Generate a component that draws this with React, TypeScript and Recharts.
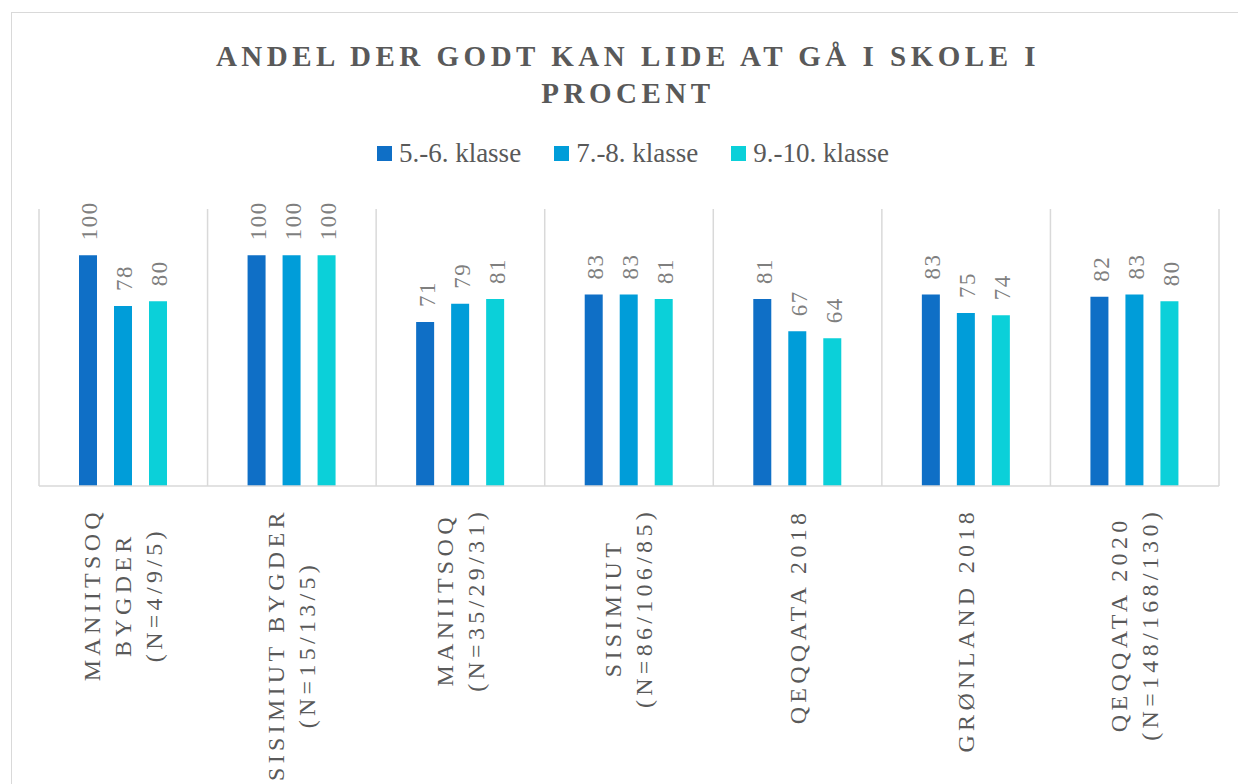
import { BarChart, Bar, XAxis, YAxis, CartesianGrid, LabelList } from 'recharts';

const categories = [
  'MANIITSOQ\nBYGDER\n(N=4/9/5)',
  'SISIMIUT BYGDER\n(N=15/13/5)',
  'MANIITSOQ\n(N=35/29/31)',
  'SISIMIUT\n(N=86/106/85)',
  'QEQQATA 2018',
  'GRØNLAND 2018',
  'QEQQATA 2020\n(N=148/168/130)',
];

const klasse56 = [100, 100, 71, 83, 81, 83, 82];
const klasse78 = [78, 100, 79, 83, 67, 75, 83];
const klasse910 = [80, 100, 81, 81, 64, 74, 80];

const seriesKeys = ['k56', 'k78', 'k910'];
const seriesNames = ['5.-6. klasse', '7.-8. klasse', '9.-10. klasse'];
const seriesColors = ['#0F6FC6', '#009DD9', '#0BD0D9'];

const chartTitle = 'ANDEL DER GODT KAN LIDE AT GÅ I SKOLE I PROCENT';

const data = categories.map((name, i) => ({
  name,
  k56: klasse56[i],
  k78: klasse78[i],
  k910: klasse910[i],
}));

const FONT = '"Liberation Serif", "DejaVu Serif", serif';
const TICK_SIZE = 24;
const TICK_SPACING = 4.3;

let ctx: CanvasRenderingContext2D | null = null;
function textWidth(s: string) {
  if (!ctx) {
    ctx = document.createElement('canvas').getContext('2d');
  }
  if (!ctx) return s.length * 18;
  ctx.font = `${TICK_SIZE}px ${FONT}`;
  return ctx.measureText(s).width + TICK_SPACING * s.length;
}

function AxisTick(props: any) {
  const { x, y, payload } = props;
  const lines = String(payload.value).split('\n');
  const maxW = Math.max(...lines.map(textWidth));
  const cy = y + 22 + maxW / 2;
  return (
    <g>
      {lines.map((line, i) => {
        const lx = x + (i - (lines.length - 1) / 2) * 31;
        return (
          <text
            key={i}
            x={lx}
            y={cy}
            transform={`rotate(-90 ${lx} ${cy})`}
            textAnchor="middle"
            dominantBaseline="central"
            fill="#595959"
            fontFamily={FONT}
            fontSize={TICK_SIZE}
            letterSpacing={TICK_SPACING}
          >
            {line}
          </text>
        );
      })}
    </g>
  );
}

function ValueLabel(props: any) {
  const { x, y, width, value } = props;
  const lx = x + width / 2 + 2;
  const ly = y - 15;
  return (
    <text
      x={lx}
      y={ly}
      transform={`rotate(-90 ${lx} ${ly})`}
      textAnchor="start"
      dominantBaseline="central"
      fill="#7f7f7f"
      fontFamily={FONT}
      fontSize={23}
      letterSpacing={1.5}
    >
      {value}
    </text>
  );
}

export default function App() {
  return (
    <div
      style={{
        position: 'fixed',
        left: 0,
        top: 0,
        width: 1238,
        height: 784,
        overflow: 'hidden',
        background: '#fff',
        fontFamily: FONT,
      }}
    >
      <div
        style={{
          position: 'absolute',
          left: 11,
          top: 12,
          width: 1300,
          height: 820,
          border: '1px solid #d9d9d9',
          boxSizing: 'border-box',
        }}
      />
      <div
        style={{
          position: 'absolute',
          left: 168,
          top: 38,
          width: 920,
          textAlign: 'center',
          color: '#595959',
          fontFamily: FONT,
          fontSize: 29,
          fontWeight: 'bold',
          letterSpacing: 4.5,
          lineHeight: '37px',
        }}
      >
        {chartTitle}
      </div>
      <div
        style={{
          position: 'absolute',
          left: 0,
          top: 138,
          width: 1266,
          display: 'flex',
          justifyContent: 'center',
          color: '#595959',
          fontFamily: FONT,
          fontSize: 27,
          lineHeight: '30px',
        }}
      >
        {seriesNames.map((name, i) => (
          <div key={name} style={{ display: 'flex', alignItems: 'center', marginRight: i < 2 ? 33 : 0 }}>
            <span
              style={{
                display: 'inline-block',
                width: 15,
                height: 15,
                background: seriesColors[i],
                marginRight: 7,
              }}
            />
            <span>{name}</span>
          </div>
        ))}
      </div>
      <div style={{ position: 'absolute', left: 0, top: 0 }}>
        <BarChart
          width={1238}
          height={784}
          data={data}
          margin={{ top: 209, right: 19, left: 39, bottom: 0 }}
          barSize={18}
          barGap={17}
        >
          <CartesianGrid
            horizontal={false}
            stroke="#d9d9d9"
            strokeWidth={1.5}
            verticalCoordinatesGenerator={({ offset }: any) =>
              Array.from({ length: categories.length + 1 }, (_, i) => offset.left + (i * offset.width) / categories.length)
            }
          />
          <XAxis
            dataKey="name"
            interval={0}
            height={298}
            tickLine={false}
            tickSize={0}
            tickMargin={0}
            axisLine={{ stroke: '#d9d9d9', strokeWidth: 1.5 }}
            tick={<AxisTick />}
          />
          <YAxis hide domain={[0, 120]} />
          {seriesKeys.map((key, i) => (
            <Bar key={key} dataKey={key} name={seriesNames[i]} fill={seriesColors[i]} isAnimationActive={false}>
              <LabelList dataKey={key} content={<ValueLabel />} />
            </Bar>
          ))}
        </BarChart>
      </div>
    </div>
  );
}
